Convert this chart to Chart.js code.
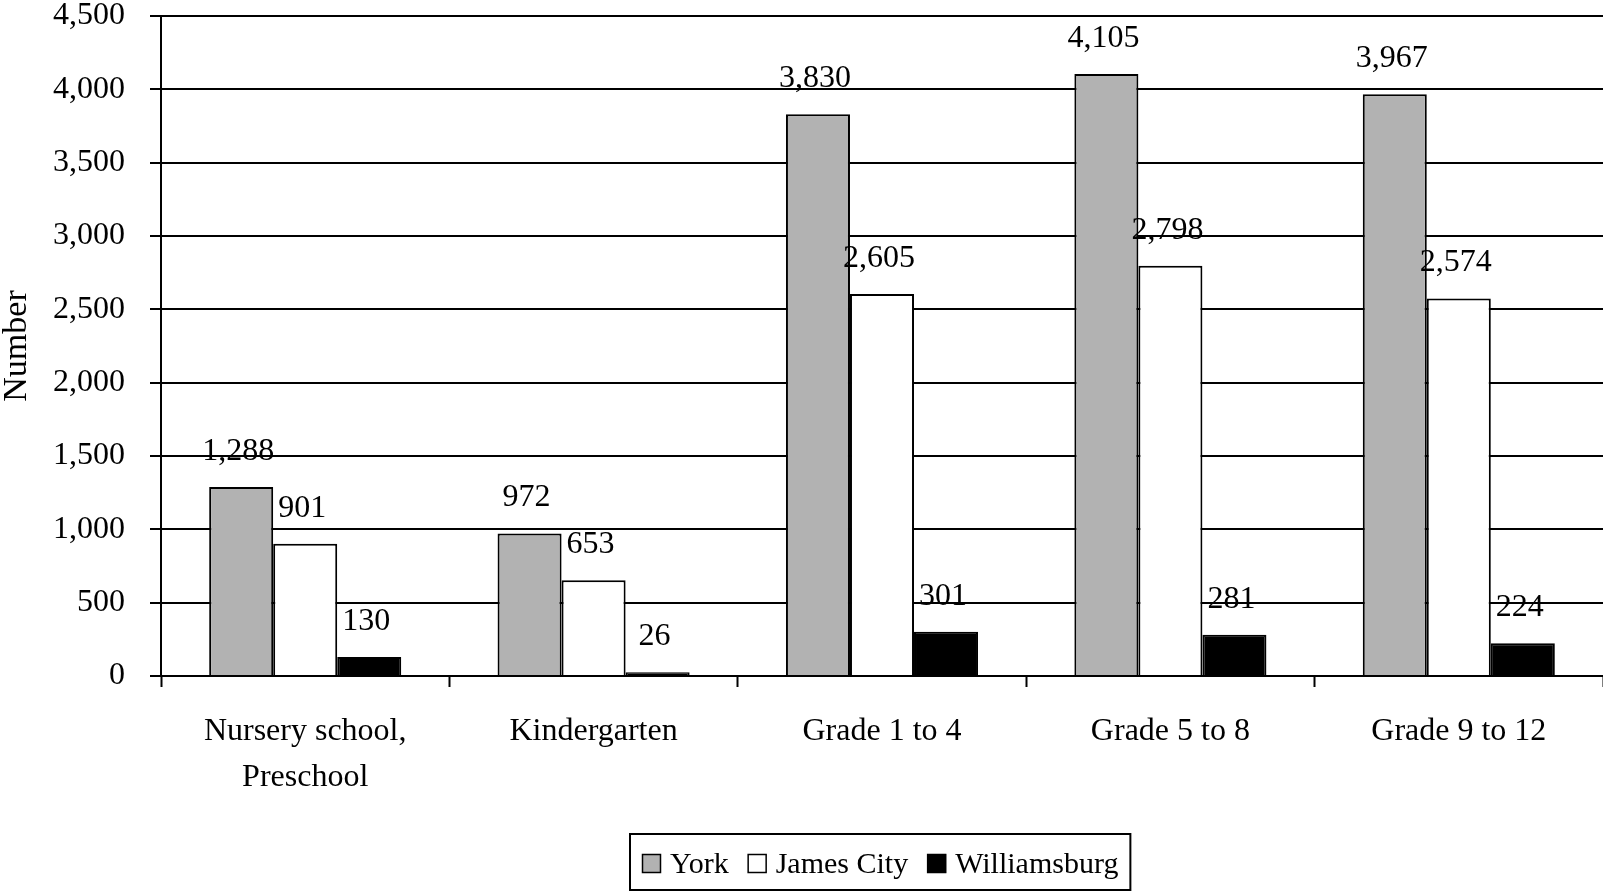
<!DOCTYPE html>
<html>
<head>
<meta charset="utf-8">
<script src="https://cdn.jsdelivr.net/npm/chart.js@4.4.1/dist/chart.umd.min.js"></script>
<style>
  html, body { margin: 0; padding: 0; background: #fff; }
  #wrap { width: 1603px; height: 892px; position: relative; }
</style>
</head>
<body>
<div id="wrap"><canvas id="chart"></canvas></div>
<script>
// enrollment by school level
var categories = [["Nursery school,", "Preschool"], "Kindergarten", "Grade 1 to 4", "Grade 5 to 8", "Grade 9 to 12"];
var york = [1288, 972, 3830, 4105, 3967];
var jamesCity = [901, 653, 2605, 2798, 2574];
var williamsburg = [130, 26, 301, 281, 224];
var seriesNames = ["York", "James City", "Williamsburg"];
var seriesColors = ["#b2b2b2", "#ffffff", "#000000"];
var yMax = 4500;
var yStep = 500;

var serif = "'Liberation Serif', 'Times New Roman', serif";

// value labels above every bar
var valueLabels = {
    id: 'valueLabels',
    afterDatasetsDraw: function(chart) {
        var ctx = chart.ctx;
        ctx.save();
        ctx.font = "32px " + serif;
        ctx.fillStyle = "#000";
        ctx.textAlign = "center";
        ctx.textBaseline = "alphabetic";
        chart.data.datasets.forEach(function(ds, i) {
            var meta = chart.getDatasetMeta(i);
            meta.data.forEach(function(bar, j) {
                ctx.fillText(ds.data[j].toLocaleString('en-US'), bar.x - 3, bar.y - 27);
            });
        });
        ctx.restore();
    }
};

// boxed legend under the chart
var boxLegend = {
    id: 'boxLegend',
    afterDraw: function(chart) {
        var ctx = chart.ctx;
        var sq = 19, gapText = 9, gapItem = 19, pad = 12;
        ctx.save();
        ctx.font = "30px " + serif;
        var items = chart.data.datasets.map(function(ds) {
            return { text: ds.label, color: ds.backgroundColor, w: ctx.measureText(ds.label).width };
        });
        var total = 0;
        items.forEach(function(it, i) {
            total += sq + gapText + it.w + (i < items.length - 1 ? gapItem : 0);
        });
        var boxW = total + pad * 2;
        var cx = 880;
        var left = Math.round(cx - boxW / 2), top = 834, h = 56;
        ctx.lineWidth = 2;
        ctx.strokeStyle = "#000";
        ctx.strokeRect(left, top, boxW, h);
        var x = left + pad;
        var base = 873;
        ctx.textBaseline = "alphabetic";
        ctx.textAlign = "left";
        items.forEach(function(it) {
            ctx.fillStyle = it.color;
            ctx.fillRect(x, base - sq, sq, sq);
            ctx.lineWidth = 1.5;
            ctx.strokeRect(x + 0.5, base - sq + 0.5, sq - 1, sq - 1);
            x += sq + gapText;
            ctx.fillStyle = "#000";
            ctx.fillText(it.text, x, base);
            x += it.w + gapItem;
        });
        ctx.restore();
    }
};

var datasets = [york, jamesCity, williamsburg].map(function(values, i) {
    return {
        label: seriesNames[i],
        data: values,
        backgroundColor: seriesColors[i],
        borderColor: "#000",
        borderWidth: 2,
        categoryPercentage: 0.666,
        barPercentage: 1.0
    };
});

new Chart(document.getElementById("chart"), {
    type: 'bar',
    data: { labels: categories, datasets: datasets },
    plugins: [valueLabels, boxLegend],
    options: {
        responsive: true,
        maintainAspectRatio: false,
        animation: false,
        layout: { padding: { top: 16, left: 0, right: 0, bottom: 0 } },
        plugins: {
            legend: { display: false },
            tooltip: { enabled: false }
        },
        scales: {
            x: {
                offset: true,
                grid: {
                    offset: true,
                    drawOnChartArea: false,
                    drawTicks: true,
                    tickLength: 11,
                    tickWidth: 2,
                    tickColor: "#000"
                },
                border: { color: "#000", width: 2 },
                ticks: {
                    color: "#000",
                    padding: 21,
                    maxRotation: 0,
                    autoSkip: false,
                    font: { family: serif, size: 32, lineHeight: 1.45 }
                },
                afterFit: function(scale) {
                    scale.height = 216;
                    scale.paddingLeft = 0;
                    scale.paddingRight = 0;
                }
            },
            y: {
                min: 0,
                max: yMax,
                grid: {
                    color: "#000",
                    lineWidth: 2,
                    tickLength: 11,
                    tickColor: "#000"
                },
                border: { color: "#000", width: 2 },
                ticks: {
                    stepSize: yStep,
                    color: "#000",
                    padding: 25,
                    font: { family: serif, size: 32 }
                },
                title: {
                    display: true,
                    text: "Number",
                    color: "#000",
                    padding: 0,
                    font: { family: serif, size: 34, lineHeight: 1 }
                },
                afterFit: function(scale) {
                    scale.width = 161;
                    scale.paddingTop = 0;
                    scale.paddingBottom = 0;
                }
            }
        }
    }
});
</script>
</body>
</html>
